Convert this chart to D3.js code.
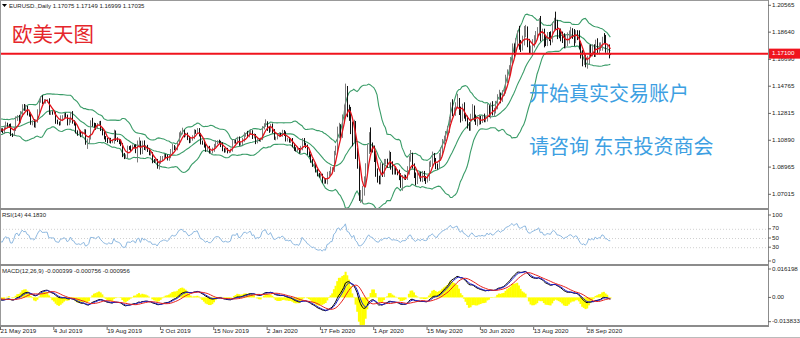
<!DOCTYPE html>
<html><head><meta charset="utf-8">
<script src="https://cdn.jsdelivr.net/npm/d3@7"></script>
<style>body{margin:0;background:#fff}svg{display:block}</style>
</head><body>
<svg id="c" width="800" height="338"></svg>
<script>
// ---- DATA (EURUSD daily, Apr 2019 .. 16 Oct 2020); first 36 bars are warm-up for the indicators ----
const warmup = 36;
const closes = [
1.1215,1.1203,1.1230,1.1220,1.1216, 1.1262,1.1264,1.1275,1.1256,1.1296, 1.1304,1.1282,1.1296,1.1232,1.1244,
1.1259,1.1226,1.1155,1.1131,1.1150, 1.1184,1.1216,1.1197,1.1172,1.1201, 1.1197,1.1192,1.1221,1.1214,1.1233,
1.1225,1.1206,1.1174,1.1173,1.1158, 1.1164,
1.1161,1.1150,1.1180,1.1205,
1.1194,1.1193,1.1131,1.1130,1.1169,
1.1240,1.1253,1.1221,1.1276,1.1333,
1.1312,1.1326,1.1285,1.1274,1.1210,
1.1220,1.1194,1.1225,1.1293,1.1370,
1.1398,1.1366,1.1368,1.1371,1.1372,
1.1286,1.1287,1.1284,1.1285,1.1225,
1.1213,1.1208,1.1251,1.1255,1.1271,
1.1261,1.1211,1.1225,1.1276,1.1220,
1.1208,1.1150,1.1139,1.1146,1.1127,
1.1142,1.1155,1.1077,1.1083,1.1108,
1.1202,1.1199,1.1198,1.1180,1.1201,
1.1214,1.1171,1.1138,1.1107,1.1091,
1.1079,1.1096,1.1080,1.1080,1.1143,
1.1098,1.1088,1.1077,1.1057,1.0986,
1.0970,1.0972,1.1033,1.1032,1.1027,
1.1045,1.1044,1.1010,1.1062,1.1074,
1.1000,1.1072,1.1031,1.1042,1.1017,
1.0991,1.0994,1.0940,1.0938,1.0941,
1.0899,1.0932,1.0958,1.0966,1.0978,
1.0971,1.0956,1.0972,1.1006,1.1040,
1.1029,1.1033,1.1068,1.1124,1.1143,
1.1150,1.1125,1.1130,1.1104,1.1080,
1.1098,1.1111,1.1152,1.1151,1.1166,
1.1128,1.1075,1.1067,1.1050,1.1018,
1.1033,1.1006,1.1006,1.1022,1.1051,
1.1075,1.1077,1.1075,1.1056,1.1022,
1.1012,1.1020,1.1009,1.1010,1.1017,
1.1079,1.1081,1.1077,1.1104,1.1059,
1.1065,1.1092,1.1130,1.1131,1.1120,
1.1144,1.1151,1.1112,1.1122,1.1077,
1.1091,1.1089,1.1100,1.1176,
1.1199,1.1213,
1.1172,1.1160,
1.1195,1.1153,1.1104,1.1105,1.1121,
1.1134,1.1128,1.1150,1.1136,1.1090,
1.1095,1.1084,1.1093,1.1054,1.1025,
1.1018,1.1021,1.1007,1.1033,1.1093,
1.1061,1.1044,1.0998,1.0979,1.0944,
1.0910,1.0914,1.0872,1.0842,1.0832,
1.0837,1.0791,1.0805,1.0787,1.0847,
1.0853,1.0880,1.0882,1.0995,1.1026,
1.1138,1.1174,1.1136,1.1238,1.1285,
1.1450,1.1284,1.1268,1.1183,1.1106,
1.1187,1.0995,1.0915,1.0691,1.0692,
1.0722,1.0790,1.0884,1.1031,1.1141,
1.1043,1.1031,
1.0963,1.0857,1.0805,
1.0793,1.0891,1.0856,1.0935,1.0937,
1.0913,1.0985,1.0908,1.0863,1.0876,
1.0863,1.0858,1.0823,1.0778,1.0820,
1.0825,1.0824,1.0873,1.0955,1.0980,
1.0907,1.0838,1.0795,1.0833,1.0842,
1.0809,1.0849,1.0816,1.0806,1.0818,
1.0917,1.0924,1.0978,1.0946,1.0902,
1.0899,1.0977,1.1007,1.1078,1.1102,
1.1135,1.1172,1.1236,1.1336,1.1291,
1.1294,1.1341,1.1372,1.1300,1.1256,
1.1331,1.1264,1.1245,1.1203,1.1177,
1.1259,1.1308,1.1253,1.1219,1.1220,
1.1243,1.1233,
1.1250,1.1238,1.1243,
1.1310,1.1275,1.1329,1.1287,1.1301,
1.1341,1.1399,1.1411,1.1384,1.1428,
1.1443,1.1529,1.1567,1.1597,1.1656,
1.1753,1.1719,1.1791,1.1846,1.1778,
1.1762,1.1799,1.1858,1.1875,1.1786,
1.1737,1.1738,1.1784,1.1812,1.1842,
1.1870,1.1930,1.1837,1.1859,1.1795,
1.1794,1.1835,1.1830,1.1820,1.1904,
1.1937,1.1912,1.1854,1.1850,1.1838,
1.1816,1.1778,1.1804,1.1812,1.1846,
1.1862,1.1846,1.1815,1.1848,1.1837,
1.1771,1.1705,1.1659,1.1673,1.1632,
1.1665,1.1745,1.1720,1.1747,1.1716,
1.1780,1.1735,1.1760,1.1761,1.1827,
1.1814,1.1746,1.1746,1.1706,1.17035
];
// upper / lower shadow length in pips (1e-4)
const upWick = [
15,20,12,18,22, 14,16,10,20,12, 10,18,12,20,14, 16,12,18,14,20, 12,16,14,18,10, 16,12,14,18,10, 14,16,12,10,14, 12,
10,14,12,18, 10,12,16,8,14, 20,16,18,22,14, 16,18,10,12,14, 12,20,14,18,12, 6,14,16,12,10,
18,12,10,14,8, 12,10,16,14,12, 14,12,20,16,22, 12,14,10,16,12, 10,14,12,18,16,
30,48,16,14,12, 12,14,10,16,12, 14,12,10,16,22, 16,12,10,14,12,
12,16,18,14,20, 14,12,16,25,36, 12,14,16,12,14, 12,14,10,14,12, 14,12,18,10,14,
12,16,14,20,22, 14,12,16,22,14, 29,14,12,14,16, 12,14,16,12,10,
10,14,12,16,12, 12,16,10,14,12, 14,12,16,10,18, 10,12,14,10,12,
14,16,12,10,12, 12,14,16,10,25, 12,14,10,16,12, 12,10,8,14, 12,26,
12,14, 12,14,16,10,12, 12,10,14,12,16, 12,14,10,12,14, 14,10,12,16,12,
12,10,14,12,10, 10,12,14,10,12, 10,12,14,12,16, 16,20,14,18,24,
49,40,30,36,60, 45,28,60,60,40, 49,40,38,30,40, 40,40,40,30,6, 40,30,
20,30,30, 30,40,30,20,18, 20,30,20,30,20, 20,16,20,30,20, 20,16,30,20,39,
20,16,20,20,20, 20,20,20,16,20, 20,20,30,20,16, 20,20,30,20,20,
20,20,20,25,47, 30,20,50,20,30, 20,30,20,20,16, 20,40,30,20,20, 30,20,
20,30,20, 40,30,30,40,20, 30,20,40,20,20, 20,30,30,30,30, 30,30,30,30,63,
30,40,50,41,30, 30,30,30,30,30, 30,36,50,30,30, 40,30,30,40,30,
30,74,40,30,40, 30,40,40,50,30, 40,30,40,30,30, 40,30,30,40,30,
30,30,30,30,30, 30,40,30,30,4, 30,30,30,30,7
];
const dnWick = [
12,14,18,10,16, 20,12,14,10,18, 16,10,14,12,18, 14,16,12,20,14, 16,12,18,10,14, 12,16,10,14,18, 12,10,16,14,12, 14,
12,10,16,12, 8,14,12,18,10, 14,12,16,10,20, 12,14,18,16,10, 14,13,16,10,14, 12,18,14,16,12,
14,16,12,10,18, 10,14,12,16,10, 12,16,14,10,12, 14,12,18,10,16, 12,10,20,50,18,
14,12,20,16,10, 10,16,14,12,14, 12,10,14,12,16, 14,12,16,10,18,
16,10,14,12,16, 10,12,14,80,16, 14,10,12,16,12, 10,12,16,12,14, 14,20,12,16,10,
10,12,14,12,16, 12,10,16,14,12, 12,16,10,14,12, 10,12,14,16,12,
12,16,10,14,12, 10,12,14,12,16, 12,14,10,16,12, 12,10,14,12,10,
10,14,12,16,10, 10,12,14,16,14, 10,12,14,10,16, 10,8,12,10, 10,14,
16,18, 10,14,12,16,10, 10,12,14,16,10, 10,12,14,16,12, 10,12,14,10,16,
10,12,14,12,16, 12,10,14,12,10, 12,10,14,9,14, 16,14,18,20,14,
20,36,40,30,28, 40,30,40,50,60, 30,40,30,37,51, 56,30,30,30,40, 40,30,
30,30,20, 20,20,30,30,20, 20,20,30,20,20, 20,20,20,30,51, 16,20,20,30,20,
20,20,30,20,20, 16,20,20,30,20, 20,20,20,20,20, 20,16,30,20,20,
20,20,30,20,30, 20,30,20,30,40, 30,20,20,30,20, 20,20,30,20,30, 20,30,
20,20,20, 20,20,30,20,30, 20,30,20,30,20, 20,20,30,20,30, 30,40,20,30,40,
40,30,30,30,30, 30,30,40,30,30, 30,30,40,30,40, 30,30,30,50,30,
30,30,40,30,40, 30,30,30,40,30, 30,30,50,30,30, 30,30,40,30,20,
30,30,30,30,30, 30,30,30,30,30, 30,30,30,30,4
];
const dateLabels = ["21 May 2019","4 Jul 2019","19 Aug 2019","2 Oct 2019","15 Nov 2019","2 Jan 2020",
  "17 Feb 2020","1 Apr 2020","15 May 2020","30 Jun 2020","13 Aug 2020","28 Sep 2020"];
const barsPerLabel = 32;
const priceTicks = [1.20565,1.18640,1.16690,1.14765,1.12815,1.10890,1.08965,1.07015];
const levelPrice = 1.17100;
const rsiTicks = [100,70,50,30,0];
const rsiLevels = [70,50,30];
const macdTicks = [0.016198,0,-0.013833];
const macdTickLabels = ["0.016198","0.00","-0.013833"];
const titleText = "EURUSD.,Daily  1.17075 1.17149 1.16999 1.17035";
const rsiText = "RSI(14) 44.1830";
const macdText = "MACD(12,26,9) -0.000399 -0.000756 -0.000956";

// ---- bars ----
const N = closes.length;
const bars = closes.map((c,k)=>{
  const o = k>0 ? closes[k-1] : c;
  const up = (upWick[k] ?? 15)*1e-4, dn = (dnWick[k] ?? 15)*1e-4;
  return {i:k-warmup, o, c, h:Math.max(o,c)+up, l:Math.min(o,c)-dn};
});

// ---- indicators ----
function sma(a,p){return a.map((v,k)=>k<p-1?null:d3.mean(a.slice(k-p+1,k+1)));}
function ema(a,p){const r=[];const al=2/(p+1);a.forEach((v,k)=>{r.push(k===0?v:al*v+(1-al)*r[k-1]);});return r;}
const ma5 = sma(closes,5);
const bbMid = sma(closes,20);
const bbStd = closes.map((v,k)=>k<19?null:d3.deviation(closes.slice(k-19,k+1))*Math.sqrt(19/20));
const bbUp = bbMid.map((m,k)=>m==null?null:m+2*bbStd[k]);
const bbLo = bbMid.map((m,k)=>m==null?null:m-2*bbStd[k]);
const rsi = new Array(N).fill(null);
{let ag=0,al=0;for(let k=1;k<N;k++){const ch=closes[k]-closes[k-1];const g=Math.max(ch,0),l=Math.max(-ch,0);
  if(k<=14){ag+=g/14;al+=l/14;}else{ag=(ag*13+g)/14;al=(al*13+l)/14;}
  if(k>=14)rsi[k]=al===0?100:100-100/(1+ag/al);}}
const e12=ema(closes,12), e26=ema(closes,26);
const macd = closes.map((v,k)=>e12[k]-e26[k]);
const macdFast = ema(macd,3);
const macdSig = sma(macd,9);
const macdHist = macd.map((v,k)=>macdSig[k]==null?null:2*(v-macdSig[k]));

// ---- layout ----
const svg = d3.select("#c");
const X0=0, X1=768;
const x = d3.scaleLinear().domain([0,11*barsPerLabel]).range([0.5,587]);
const yP = d3.scaleLinear().domain([1.07015,1.20565]).range([194.3,5.3]);
const yR = d3.scaleLinear().domain([0,100]).range([261,215]);
const yM = d3.scaleLinear().domain([-0.013833,0.016198]).range([321.7,269]);
const step = x(1)-x(0);
const font = "'Liberation Sans', Arial, sans-serif";

const defs = svg.append("defs");
[["cMain",0,208],["cRsi",210,264],["cMacd",266,325]].forEach(([id,a,b])=>{
  defs.append("clipPath").attr("id",id).append("rect").attr("x",X0).attr("y",a).attr("width",X1-X0).attr("height",b-a);
});
const vis = bars.filter(b=>b.i>=0);

const gMain = svg.append("g").attr("clip-path","url(#cMain)");
function lineOf(arr, yS){
  return d3.line().defined(d=>d.v!=null).x(d=>x(d.i)).y(d=>yS(d.v))(arr.map((v,k)=>({i:k-warmup,v})).filter(d=>d.i>=-2));
}
[bbUp,bbMid,bbLo].forEach(a=>gMain.append("path").attr("d",lineOf(a,yP)).attr("fill","none").attr("stroke","#3a9c68").attr("stroke-width",1.1));
const gC = gMain.append("g");
vis.forEach(b=>{
  const px = Math.round(x(b.i))+0.5;
  const col = b.c>=b.o ? "#7c7c7c" : "#111";
  gC.append("line").attr("x1",px).attr("x2",px).attr("y1",yP(b.h)).attr("y2",yP(b.l)).attr("stroke",col).attr("stroke-width",1);
});
gMain.append("path").attr("d",lineOf(ma5,yP)).attr("fill","none").attr("stroke","#e3121a").attr("stroke-width",1.3);
svg.append("line").attr("x1",X0).attr("x2",X1).attr("y1",yP(levelPrice)).attr("y2",yP(levelPrice)).attr("stroke","#f0141e").attr("stroke-width",2);

const gR = svg.append("g").attr("clip-path","url(#cRsi)");
rsiLevels.forEach(v=>gR.append("line").attr("x1",X0).attr("x2",X1).attr("y1",yR(v)+0.5).attr("y2",yR(v)+0.5).attr("stroke","#d0d0d0").attr("stroke-dasharray","1,2"));
gR.append("path").attr("d",lineOf(rsi,yR)).attr("fill","none").attr("stroke","#8db8e0").attr("stroke-width",1);

const gM = svg.append("g").attr("clip-path","url(#cMacd)");
vis.forEach(b=>{
  const k=b.i+warmup, h=macdHist[k]; if(h==null)return;
  gM.append("rect").attr("x",x(b.i)-step/2).attr("width",step+0.4)
    .attr("y",Math.min(yM(h),yM(0))).attr("height",Math.abs(yM(h)-yM(0))).attr("fill","#ffff00");
});
gM.append("path").attr("d",lineOf(macd,yM)).attr("fill","none").attr("stroke","#000").attr("stroke-width",1);
gM.append("path").attr("d",lineOf(macdFast,yM)).attr("fill","none").attr("stroke","#1c1cd0").attr("stroke-width",1);
gM.append("path").attr("d",lineOf(macdSig,yM)).attr("fill","none").attr("stroke","#e8201c").attr("stroke-width",1);

const frame = svg.append("g");
frame.append("line").attr("x1",0).attr("x2",X1).attr("y1",0.5).attr("y2",0.5).attr("stroke","#999");
frame.append("line").attr("x1",0.5).attr("x2",0.5).attr("y1",0).attr("y2",327).attr("stroke","#999");
[209,265,326].forEach(y=>frame.append("line").attr("x1",0).attr("x2",X1+1).attr("y1",y).attr("y2",y).attr("stroke","#8c8c8c").attr("stroke-width",2));
frame.append("line").attr("x1",X1+0.5).attr("x2",X1+0.5).attr("y1",0).attr("y2",327).attr("stroke","#8c8c8c").attr("stroke-width",1);
frame.append("line").attr("x1",0).attr("x2",800).attr("y1",337.5).attr("y2",337.5).attr("stroke","#bbb");

const txt = (g,xx,yy,s,opt={})=>g.append("text").attr("x",xx).attr("y",yy).text(s)
  .attr("font-family",font).attr("font-size",opt.size||6.2).attr("fill",opt.fill||"#222")
  .attr("dominant-baseline",opt.db||"middle").attr("text-anchor",opt.anchor||"start");
const ax = svg.append("g");
priceTicks.forEach(p=>{
  ax.append("line").attr("x1",X1).attr("x2",X1+3).attr("y1",yP(p)).attr("y2",yP(p)).attr("stroke","#666");
  txt(ax,772,yP(p),d3.format(".5f")(p));
});
ax.append("rect").attr("x",769).attr("y",yP(levelPrice)-5).attr("width",31).attr("height",10).attr("fill","#f0141e");
txt(ax,772,yP(levelPrice),d3.format(".5f")(levelPrice),{fill:"#fff"});
rsiTicks.forEach(v=>{
  ax.append("line").attr("x1",X1).attr("x2",X1+3).attr("y1",yR(v)).attr("y2",yR(v)).attr("stroke","#666");
  txt(ax,772,yR(v),String(v));
});
macdTicks.forEach((v,j)=>{
  ax.append("line").attr("x1",X1).attr("x2",X1+3).attr("y1",yM(v)).attr("y2",yM(v)).attr("stroke","#666");
  txt(ax,772,yM(v),macdTickLabels[j]);
});
dateLabels.forEach((s,j)=>{
  const xx = x(j*barsPerLabel);
  ax.append("line").attr("x1",xx).attr("x2",xx).attr("y1",327).attr("y2",330).attr("stroke","#666");
  txt(ax,xx,333,s,{db:"alphabetic"});
});

ax.append("path").attr("d","M2,4 L7,4 L4.5,7 Z").attr("fill","#000");
txt(ax,9,6,titleText,{size:6});
txt(ax,2,215,rsiText,{size:6});
txt(ax,2,271,macdText,{size:6});

const cjk = "'Noto Sans CJK SC', sans-serif";
svg.append("text").attr("x",12).attr("y",42).text("欧美天图").attr("font-family",cjk).attr("font-size",20.5).attr("fill","#e5262b");
svg.append("text").attr("x",529).attr("y",101).text("开始真实交易账户").attr("font-family",cjk).attr("font-size",20).attr("fill","#3d9fe2");
svg.append("text").attr("x",529).attr("y",154).text("请咨询 东京投资商会").attr("font-family",cjk).attr("font-size",20).attr("fill","#3d9fe2");
</script>
</body></html>
